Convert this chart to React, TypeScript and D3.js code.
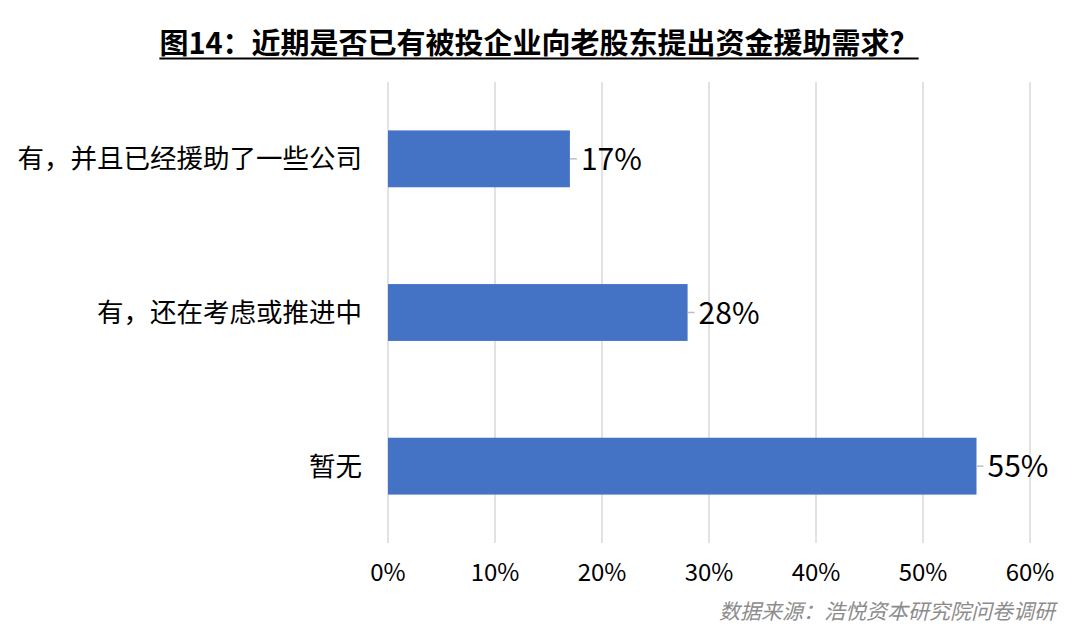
import React from "react";
import * as d3 from "d3";

const categories = ["有，并且已经援助了一些公司", "有，还在考虑或推进中", "暂无"];
const values = [17, 28, 55];
const tickValues = [0, 10, 20, 30, 40, 50, 60];
const title = "图14：近期是否已有被投企业向老股东提出资金援助需求？";
const source = "数据来源：浩悦资本研究院问卷调研";

const W = 1080;
const H = 638;
const FONT = '"Noto Sans CJK SC", "Noto Sans", sans-serif';

export default function App() {
  const x = d3.scaleLinear().domain([0, 60]).range([388, 1030]);
  const y = d3
    .scaleBand<string>()
    .domain(categories)
    .range([82, 543])
    .paddingInner(0.63)
    .paddingOuter(0.315);
  const titleRef = React.useRef<SVGTextElement>(null);
  const [tw, setTw] = React.useState(758);
  React.useEffect(() => {
    if (titleRef.current) setTw(titleRef.current.getComputedTextLength());
  }, []);
  const cx = 539;
  return (
    <svg
      width={W}
      height={H}
      style={{ position: "absolute", left: 0, top: 0, background: "#fff" }}
      fontFamily={FONT}
    >
      <rect width={W} height={H} fill="#fff" />
      <text
        ref={titleRef}
        x={cx}
        y={54}
        textAnchor="middle"
        fontSize={29}
        fontWeight="bold"
        fill="#000"
      >
        {title}
      </text>
      <line x1={cx - tw / 2} x2={cx + tw / 2} y1={58.5} y2={58.5} stroke="#000" strokeWidth={2} />
      {tickValues.map((t) => (
        <g key={t}>
          <line x1={x(t)} x2={x(t)} y1={82} y2={543} stroke="#d9d9d9" strokeWidth={1.5} />
          <text x={x(t)} y={581} textAnchor="middle" fontSize={24} fill="#000">
            {t}%
          </text>
        </g>
      ))}
      {categories.map((c, i) => {
        const by = y(c)!;
        const bh = y.bandwidth();
        const cy = by + bh / 2;
        return (
          <g key={c}>
            <rect x={x(0)} y={by} width={x(values[i]) - x(0)} height={bh} fill="#4472c4" />
            <line
              x1={x(values[i])}
              x2={x(values[i]) + 7}
              y1={cy}
              y2={cy}
              stroke="#bfbfbf"
              strokeWidth={1.5}
            />
            <text
              x={x(values[i]) + 11}
              y={cy}
              dy="0.37em"
              fontSize={30}
              fill="#000"
            >
              {values[i]}%
            </text>
            <text x={362} y={cy} dy="0.36em" textAnchor="end" fontSize={26.5} fill="#000">
              {c}
            </text>
          </g>
        );
      })}
      <text
        x={1055}
        y={619}
        textAnchor="end"
        fontSize={21}
        fontStyle="italic"
        fill="#8c8c8c"
      >
        {source}
      </text>
    </svg>
  );
}
